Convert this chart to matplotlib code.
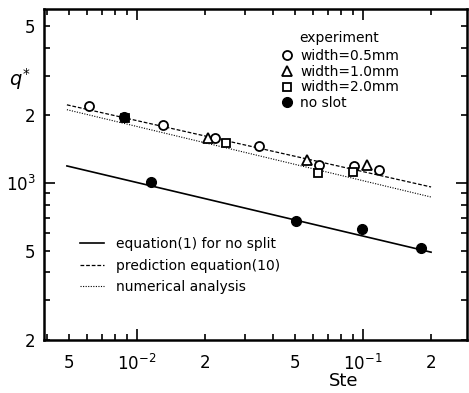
import numpy as np
import matplotlib
matplotlib.use("Agg")
import matplotlib.pyplot as plt
from matplotlib.ticker import FixedLocator, FuncFormatter
from matplotlib.lines import Line2D

plt.rcParams['font.family'] = ['DejaVu Sans']
plt.rcParams['mathtext.fontset'] = 'dejavusans'

# experiment data
ste_w05 = [0.00613, 0.0130, 0.0221, 0.0347, 0.0639, 0.0912, 0.118]
q_w05 = [2208, 1815, 1589, 1463, 1203, 1191, 1143]
ste_w10 = [0.0206, 0.0565, 0.104]
q_w10 = [1589, 1267, 1203]
ste_w20 = [0.00885, 0.0248, 0.0631, 0.0902]
q_w20 = [1951, 1509, 1108, 1120]
ste_noslot = [0.00876, 0.01153, 0.0505, 0.099, 0.181]
q_noslot = [1971, 1010, 677, 623, 513]

# straight lines on log-log (end points)
line_ste = [0.0049, 0.20]
q_eq1 = [1191, 492]
q_eq10 = [2228, 960]
q_num = [2120, 866]

fig = plt.figure(figsize=(4.69, 3.93), dpi=100)
ax = fig.add_axes([44/469, 1-340/393, 423/469, 331/393])
ax.set_xscale('log')
ax.set_yscale('log')
ax.set_xlim(0.00388, 0.2884)
ax.set_ylim(200, 5950)

k = 'black'
ax.plot(line_ste, q_eq1, '-', color=k, lw=1.2)
ax.plot(line_ste, q_eq10, '--', color=k, lw=0.9, dashes=(3, 1.5))
ax.plot(line_ste, q_num, ':', color=k, lw=0.8, dashes=(1, 1.3))

ax.plot(ste_w05, q_w05, 'o', mfc='white', mec=k, mew=1.3, ms=6.5, ls='none')
ax.plot(ste_w10, q_w10, '^', mfc='white', mec=k, mew=1.3, ms=6.5, ls='none')
ax.plot(ste_w20, q_w20, 's', mfc='white', mec=k, mew=1.3, ms=5.5, ls='none')
ax.plot(ste_noslot, q_noslot, 'o', color=k, ms=7, ls='none')

# ticks: decades long, the rest short; only 2 and 5 get a label
xmaj = [1e-2, 1e-1]
xmin = [m * 10.0**e for e in (-3, -2, -1) for m in range(2, 10)]
ax.xaxis.set_major_locator(FixedLocator(xmaj))
ax.xaxis.set_minor_locator(FixedLocator(xmin))
ymaj = [1e3]
ymin = [m * 10.0**e for e in (2, 3) for m in range(2, 10)]
ax.yaxis.set_major_locator(FixedLocator(ymaj))
ax.yaxis.set_minor_locator(FixedLocator(ymin))

def dec_fmt(v, pos):
    return '$10^{%d}$' % round(np.log10(v))

def minor_fmt(v, pos):
    m = round(v / 10.0**np.floor(np.log10(v) + 1e-9))
    return str(m) if m in (2, 5) else ''

ax.xaxis.set_major_formatter(FuncFormatter(dec_fmt))
ax.xaxis.set_minor_formatter(FuncFormatter(minor_fmt))
ax.yaxis.set_major_formatter(FuncFormatter(dec_fmt))
ax.yaxis.set_minor_formatter(FuncFormatter(minor_fmt))

ax.tick_params(which='both', direction='in', top=True, right=True,
               labelsize=12, width=1.2)
ax.tick_params(which='major', length=8)
ax.tick_params(which='minor', length=4.5)
ax.tick_params(axis='x', which='both', pad=10)
ax.tick_params(axis='y', which='both', pad=6)
for s in ax.spines.values():
    s.set_linewidth(1.8)

fig.text(20/469, 1-79/393, '$q^{*}$', fontsize=14, ha='center', va='center')
fig.text(344/469, 1-381/393, 'Ste', fontsize=13, ha='center', va='center')

# legends
h1 = [Line2D([], [], marker='o', mfc='white', mec=k, mew=1.3, ms=6.5, ls='none'),
      Line2D([], [], marker='^', mfc='white', mec=k, mew=1.3, ms=6.5, ls='none'),
      Line2D([], [], marker='s', mfc='white', mec=k, mew=1.3, ms=5.5, ls='none'),
      Line2D([], [], marker='o', color=k, ms=7, ls='none')]
l1 = ax.legend(h1, ['width=0.5mm', 'width=1.0mm', 'width=2.0mm', 'no slot'],
               title='experiment', loc='upper left',
               bbox_to_anchor=((280-44)/423, 1-(31-9)/331),
               frameon=False, fontsize=10, title_fontsize=10,
               handlelength=1.0, handletextpad=0.45, labelspacing=0.12,
               borderpad=0, borderaxespad=0)
l1._legend_box.sep = 3
ax.add_artist(l1)

h2 = [Line2D([], [], color=k, lw=1.2, ls='-'),
      Line2D([], [], color=k, lw=0.9, ls='--', dashes=(3, 1.5)),
      Line2D([], [], color=k, lw=0.8, ls=':', dashes=(1, 1.3))]
ax.legend(h2, ['equation(1) for no split', 'prediction equation(10)', 'numerical analysis'],
          loc='upper left', bbox_to_anchor=((80-44)/423, 1-(237-9)/331),
          frameon=False, fontsize=10, handlelength=1.7, handletextpad=0.9,
          labelspacing=0.55, borderpad=0, borderaxespad=0)

fig.savefig('out.png', dpi=100)
